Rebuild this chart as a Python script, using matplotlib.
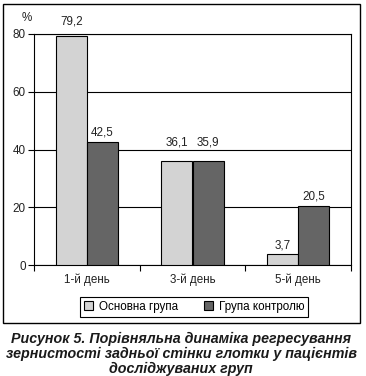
import numpy as np
import matplotlib
matplotlib.use('Agg')
import matplotlib.pyplot as plt
from matplotlib.patches import Rectangle, Patch

days = ['1-й день', '3-й день', '5-й день']
main_group = [79.2, 36.1, 3.7]
control_group = [42.5, 35.9, 20.5]
series_names = ['Основна група', 'Група контролю']
caption = ('Рисунок 5. Порівняльна динаміка регресування\n'
           'зернистості задньої стінки глотки у пацієнтів\n'
           'досліджуваних груп')

# label lift above each bar (data units), as placed in the original
main_lift = [5.0, 6.4, 2.9]
control_lift = [3.3, 6.6, 3.3]

plt.rcParams['font.family'] = ['Liberation Sans', 'DejaVu Sans']
plt.rcParams['font.size'] = 8.4

light = '#d3d3d3'
dark = '#656565'

fig = plt.figure(figsize=(3.66, 3.76), dpi=100)
ax = fig.add_axes([34 / 366, 1 - 265 / 376, 317 / 366, 231 / 376])

x = np.arange(len(days))
w = 0.295
ax.bar(x - w / 2, main_group, w, color=light, edgecolor='black', linewidth=0.8, zorder=3)
ax.bar(x + w / 2, control_group, w, color=dark, edgecolor='black', linewidth=0.8, zorder=3)

for i in range(len(days)):
    ax.text(x[i] - w / 2, main_group[i] + main_lift[i], f'{main_group[i]:.1f}'.replace('.', ','),
            ha='center', va='center', color='#222222')
    ax.text(x[i] + w / 2, control_group[i] + control_lift[i], f'{control_group[i]:.1f}'.replace('.', ','),
            ha='center', va='center', color='#222222')

ax.set_xlim(-0.5, 2.5)
ax.set_ylim(0, 80)
ax.set_yticks([0, 20, 40, 60, 80])
ax.yaxis.grid(True, color='black', linewidth=0.8, zorder=0)
ax.set_axisbelow(True)
ax.tick_params(axis='y', length=4, width=0.8, pad=2, colors='black', labelcolor='#222222')

ax.set_xticks([-0.5, 0.5, 1.5, 2.5])
ax.set_xticklabels([])
ax.set_xticks(x, minor=True)
ax.set_xticklabels(days, minor=True)
ax.tick_params(axis='x', which='major', length=4, width=0.8, direction='out')
ax.tick_params(axis='x', which='minor', length=0, pad=6, labelcolor='#222222')

for s in ax.spines.values():
    s.set_linewidth(0.8)
    s.set_color('black')

fig.text(27 / 366, 1 - 18 / 376, '%', ha='center', va='center', color='#222222')

handles = [Patch(facecolor=light, edgecolor='black', linewidth=0.8),
           Patch(facecolor=dark, edgecolor='black', linewidth=0.8)]
leg = fig.legend(handles, series_names, loc='center', ncol=2,
                 bbox_to_anchor=(194 / 366, 1 - 307 / 376),
                 fancybox=False, edgecolor='black', framealpha=1,
                 handlelength=0.8, handleheight=0.8, handletextpad=0.5,
                 columnspacing=2.2, borderpad=0.35)
leg.get_frame().set_linewidth(0.8)

fig.add_artist(Rectangle((3 / 366, 1 - 323 / 376), 357 / 366, 319 / 376,
                         transform=fig.transFigure, fill=False,
                         edgecolor='black', linewidth=1.0))

fig.text(181 / 366, 1 - 354 / 376, caption, ha='center', va='center',
         fontsize=10.3, fontweight='bold', style='italic', linespacing=1.05,
         color='#1a1a1a')

fig.savefig('out.png', dpi=100)
